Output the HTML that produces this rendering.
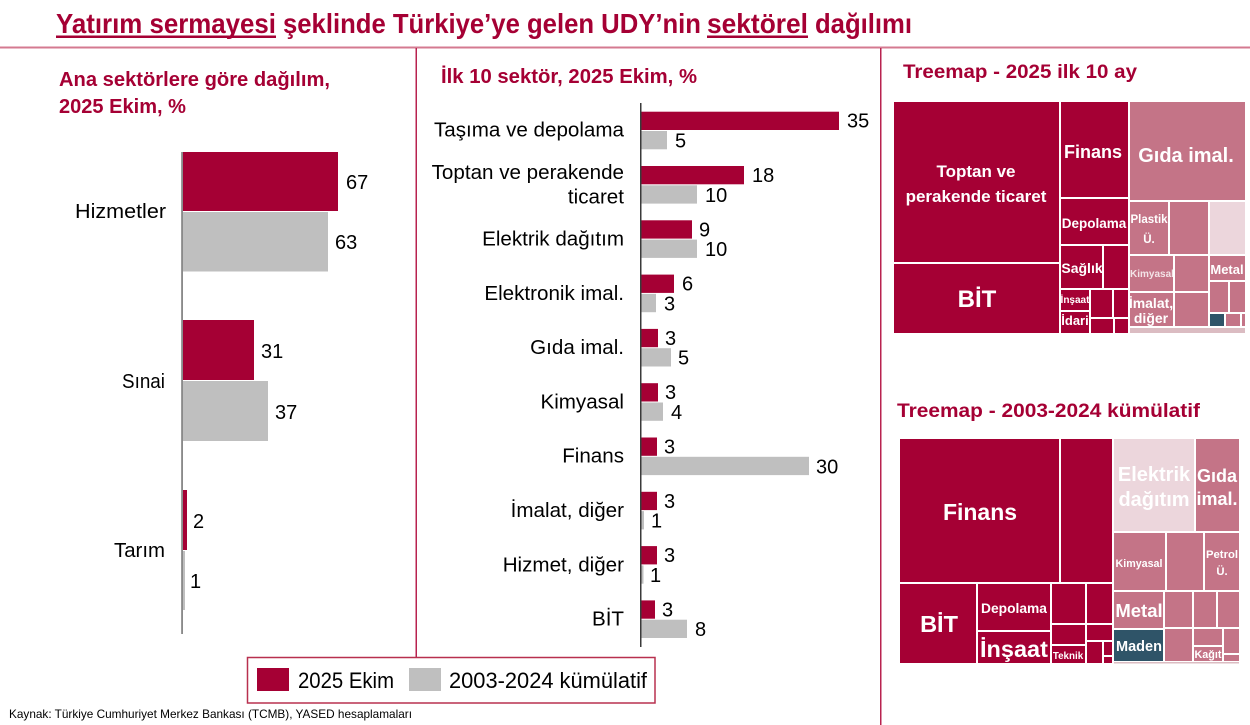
<!DOCTYPE html>
<html><head><meta charset="utf-8">
<style>
html,body{margin:0;padding:0;background:#fff;}
svg{display:block;}
text{font-family:"Liberation Sans",Arial,sans-serif;}
</style></head>
<body>
<svg width="1250" height="725" viewBox="0 0 1250 725" xmlns="http://www.w3.org/2000/svg">
<rect x="0" y="0" width="1250" height="725" fill="#fff"/>

<!-- Title -->
<g font-weight="bold" font-size="28" fill="#a50034">
<text x="56" y="33" textLength="220" lengthAdjust="spacingAndGlyphs">Yatırım sermayesi</text>
<text x="283" y="33" textLength="418" lengthAdjust="spacingAndGlyphs">şeklinde Türkiye’ye gelen UDY’nin</text>
<text x="707" y="33" textLength="101" lengthAdjust="spacingAndGlyphs">sektörel</text>
<text x="815" y="33" textLength="97" lengthAdjust="spacingAndGlyphs">dağılımı</text>
</g>
<rect x="56" y="35.5" width="220" height="2.5" fill="#a50034"/>
<rect x="707" y="35.5" width="101" height="2.5" fill="#a50034"/>

<!-- dividers -->
<rect x="0" y="46.5" width="1250" height="2" fill="#d47a90"/>
<rect x="415.5" y="48" width="1.5" height="609" fill="#b8224f"/>
<rect x="880" y="48" width="1.5" height="677" fill="#b8224f"/>

<!-- Subtitles -->
<g font-weight="bold" font-size="20" fill="#a50034">
<text x="59" y="86" textLength="271" lengthAdjust="spacingAndGlyphs">Ana sektörlere göre dağılım,</text>
<text x="59" y="113" textLength="127" lengthAdjust="spacingAndGlyphs">2025 Ekim, %</text>
<text x="441" y="83" textLength="256" lengthAdjust="spacingAndGlyphs">İlk 10 sektör, 2025 Ekim, %</text>
<text x="903" y="78" font-size="19" textLength="234" lengthAdjust="spacingAndGlyphs">Treemap - 2025 ilk 10 ay</text>
<text x="897" y="417" font-size="19" textLength="303" lengthAdjust="spacingAndGlyphs">Treemap - 2003-2024 kümülatif</text>
</g>

<!-- Left chart -->
<g>
<rect x="183" y="152" width="155" height="59" fill="#a50034"/>
<rect x="183" y="212" width="145" height="59.5" fill="#bfbfbf"/>
<rect x="183" y="320" width="71" height="60" fill="#a50034"/>
<rect x="183" y="381" width="85" height="60" fill="#bfbfbf"/>
<rect x="183" y="490" width="4" height="60" fill="#a50034"/>
<rect x="183" y="551" width="2" height="59" fill="#bfbfbf"/>
<rect x="181.3" y="152" width="1.5" height="482" fill="#6e6e6e"/>
</g>
<g font-size="20" fill="#000">
<text x="75" y="218" textLength="91" lengthAdjust="spacingAndGlyphs">Hizmetler</text>
<text x="122" y="388" textLength="43" lengthAdjust="spacingAndGlyphs">Sınai</text>
<text x="114" y="557" textLength="51" lengthAdjust="spacingAndGlyphs">Tarım</text>
<text x="346" y="189">67</text>
<text x="335" y="249">63</text>
<text x="261" y="358">31</text>
<text x="275" y="419">37</text>
<text x="193" y="528">2</text>
<text x="190" y="588">1</text>
</g>

<!-- Middle chart -->
<g>
<rect x="641" y="111.7" width="198" height="18.3" fill="#a50034"/>
<rect x="641" y="131" width="26" height="18.3" fill="#bfbfbf"/>
<rect x="641" y="166" width="103" height="18.3" fill="#a50034"/>
<rect x="641" y="185.3" width="56" height="18.3" fill="#bfbfbf"/>
<rect x="641" y="220.3" width="51" height="18.3" fill="#a50034"/>
<rect x="641" y="239.6" width="56" height="18.3" fill="#bfbfbf"/>
<rect x="641" y="274.6" width="33" height="18.3" fill="#a50034"/>
<rect x="641" y="293.9" width="15" height="18.3" fill="#bfbfbf"/>
<rect x="641" y="328.9" width="17" height="18.3" fill="#a50034"/>
<rect x="641" y="348.2" width="30" height="18.3" fill="#bfbfbf"/>
<rect x="641" y="383.2" width="17" height="18.3" fill="#a50034"/>
<rect x="641" y="402.5" width="22" height="18.3" fill="#bfbfbf"/>
<rect x="641" y="437.5" width="16" height="18.3" fill="#a50034"/>
<rect x="641" y="456.8" width="168" height="18.3" fill="#bfbfbf"/>
<rect x="641" y="491.8" width="16" height="18.3" fill="#a50034"/>
<rect x="641" y="511.1" width="3" height="18.3" fill="#bfbfbf"/>
<rect x="641" y="546.1" width="16" height="18.3" fill="#a50034"/>
<rect x="641" y="565.4" width="2.5" height="18.3" fill="#bfbfbf"/>
<rect x="641" y="600.4" width="14" height="18.3" fill="#a50034"/>
<rect x="641" y="619.7" width="46" height="18.3" fill="#bfbfbf"/>
<rect x="640" y="103" width="1.5" height="544" fill="#3a3a3a"/>
</g>
<g font-size="20.6" fill="#000" text-anchor="end">
<text x="624" y="136.5">Taşıma ve depolama</text>
<text x="624" y="179">Toptan ve perakende</text>
<text x="624" y="203.3">ticaret</text>
<text x="624" y="245.5">Elektrik dağıtım</text>
<text x="624" y="299.8">Elektronik imal.</text>
<text x="624" y="354.1">Gıda imal.</text>
<text x="624" y="408.4">Kimyasal</text>
<text x="624" y="462.7">Finans</text>
<text x="624" y="517">İmalat, diğer</text>
<text x="624" y="571.3">Hizmet, diğer</text>
<text x="624" y="625.6">BİT</text>
</g>
<g font-size="20" fill="#000">
<text x="847" y="127.7">35</text>
<text x="675" y="147.5">5</text>
<text x="752" y="182">18</text>
<text x="705" y="201.8">10</text>
<text x="699" y="236.3">9</text>
<text x="705" y="256.1">10</text>
<text x="682" y="290.6">6</text>
<text x="664" y="310.4">3</text>
<text x="665" y="344.9">3</text>
<text x="678" y="364.7">5</text>
<text x="665" y="399.2">3</text>
<text x="671" y="419">4</text>
<text x="664" y="453.5">3</text>
<text x="816" y="473.3">30</text>
<text x="664" y="507.8">3</text>
<text x="651" y="527.6">1</text>
<text x="664" y="562.1">3</text>
<text x="650" y="581.9">1</text>
<text x="662" y="616.4">3</text>
<text x="695" y="636.2">8</text>
</g>

<!-- Legend -->
<rect x="247.5" y="657.5" width="407.5" height="45.5" fill="#fff" stroke="#b8304f" stroke-width="1.5"/>
<rect x="257" y="668" width="32" height="23" fill="#a50034"/>
<rect x="409" y="668" width="32" height="23" fill="#bfbfbf"/>
<g font-size="22" fill="#000">
<text x="298" y="688" textLength="96" lengthAdjust="spacingAndGlyphs">2025 Ekim</text>
<text x="449" y="688" textLength="198" lengthAdjust="spacingAndGlyphs">2003-2024 kümülatif</text>
</g>

<!-- Footer -->
<text x="9" y="718" font-size="12" fill="#000" textLength="403" lengthAdjust="spacingAndGlyphs">Kaynak: Türkiye Cumhuriyet Merkez Bankası (TCMB), YASED hesaplamaları</text>

<!-- Treemap 1 -->
<g fill="#a50034">
<rect x="894" y="102" width="165" height="160"/>
<rect x="894" y="264" width="165" height="69"/>
<rect x="1061" y="102" width="67" height="95"/>
<rect x="1061" y="199" width="67" height="45"/>
<rect x="1061" y="246" width="41" height="42"/>
<rect x="1104" y="246" width="24" height="42"/>
<rect x="1061" y="290" width="28" height="20"/>
<rect x="1061" y="312" width="28" height="21"/>
<rect x="1091" y="290" width="21" height="27"/>
<rect x="1114" y="290" width="14" height="27"/>
<rect x="1091" y="319" width="22" height="14"/>
<rect x="1115" y="319" width="13" height="14"/>
</g>
<g fill="#c47487">
<rect x="1130" y="102" width="115" height="98"/>
<rect x="1130" y="202" width="38" height="52"/>
<rect x="1170" y="202" width="38" height="52"/>
<rect x="1130" y="256" width="43" height="35"/>
<rect x="1175" y="256" width="33" height="35"/>
<rect x="1210" y="256" width="35" height="24"/>
<rect x="1130" y="293" width="43" height="33"/>
<rect x="1175" y="293" width="33" height="33"/>
<rect x="1210" y="282" width="18" height="30"/>
<rect x="1230" y="282" width="15" height="30"/>
<rect x="1226" y="314" width="14" height="12"/>
<rect x="1242" y="314" width="3" height="12"/>
</g>
<rect x="1210" y="202" width="35" height="52" fill="#ecd6dc"/>
<rect x="1210" y="314" width="14" height="12" fill="#2f5468"/>
<rect x="1130" y="328" width="115" height="5" fill="#dbbcc2"/>

<g font-weight="bold" fill="#fff" text-anchor="middle">
<text x="976" y="177" font-size="17">Toptan ve</text>
<text x="976" y="202" font-size="17">perakende ticaret</text>
<text x="977" y="307" font-size="24">BİT</text>
<text x="1093" y="158" font-size="18">Finans</text>
<text x="1186" y="162" font-size="20">Gıda imal.</text>
<text x="1094" y="228" font-size="13.5">Depolama</text>
<text x="1149" y="223" font-size="11.5">Plastik</text>
<text x="1149" y="243" font-size="11.5">Ü.</text>
<text x="1082" y="273" font-size="14">Sağlık</text>
<text x="1152" y="277" font-size="10" fill-opacity="0.8">Kimyasal</text>
<text x="1227" y="274" font-size="13">Metal</text>
<text x="1075" y="303" font-size="10">İnşaat</text>
<text x="1075" y="325" font-size="13">İdari</text>
<text x="1151" y="308" font-size="14">İmalat,</text>
<text x="1151" y="323" font-size="14">diğer</text>
</g>

<!-- Treemap 2 -->
<g fill="#a50034">
<rect x="900" y="439" width="159" height="143"/>
<rect x="1061" y="439" width="51" height="143"/>
<rect x="900" y="584" width="76" height="79"/>
<rect x="978" y="584" width="72" height="46"/>
<rect x="978" y="632" width="72" height="31"/>
<rect x="1052" y="584" width="33" height="39"/>
<rect x="1087" y="584" width="25" height="39"/>
<rect x="1052" y="625" width="33" height="19"/>
<rect x="1087" y="625" width="25" height="15"/>
<rect x="1052" y="646" width="33" height="17"/>
<rect x="1087" y="642" width="15" height="21"/>
<rect x="1104" y="642" width="8" height="13"/>
<rect x="1104" y="657" width="8" height="6"/>
</g>
<rect x="1114" y="439" width="80" height="92" fill="#ecd6dc"/>
<g fill="#c47487">
<rect x="1196" y="439" width="43" height="92"/>
<rect x="1114" y="533" width="51" height="57"/>
<rect x="1167" y="533" width="36" height="57"/>
<rect x="1205" y="533" width="34" height="57"/>
<rect x="1114" y="592" width="49" height="36"/>
<rect x="1165" y="592" width="27" height="35"/>
<rect x="1194" y="592" width="22" height="35"/>
<rect x="1218" y="592" width="21" height="35"/>
<rect x="1165" y="629" width="27" height="32"/>
<rect x="1194" y="629" width="28" height="16"/>
<rect x="1224" y="629" width="15" height="24"/>
<rect x="1194" y="647" width="28" height="14"/>
<rect x="1224" y="655" width="15" height="6"/>
</g>
<rect x="1114" y="630" width="49" height="31" fill="#2f5468"/>
<rect x="1114" y="662" width="125" height="1.5" fill="#dbbcc2"/>

<g font-weight="bold" fill="#fff" text-anchor="middle">
<text x="980" y="520" font-size="23">Finans</text>
<text x="939" y="632" font-size="23.5">BİT</text>
<text x="1014" y="613" font-size="13.8">Depolama</text>
<text x="1014" y="657" font-size="23.5">İnşaat</text>
<text x="1068" y="659" font-size="9.8">Teknik</text>
<text x="1154" y="481" font-size="20">Elektrik</text>
<text x="1154" y="506" font-size="20">dağıtım</text>
<text x="1217" y="482" font-size="18">Gıda</text>
<text x="1217" y="505" font-size="18">imal.</text>
<text x="1139" y="567" font-size="10.7">Kimyasal</text>
<text x="1222" y="558" font-size="11.3">Petrol</text>
<text x="1222" y="575" font-size="11.3">Ü.</text>
<text x="1139" y="617" font-size="18.5">Metal</text>
<text x="1139" y="651" font-size="14.5">Maden</text>
<text x="1208" y="658" font-size="10.8">Kağıt</text>
</g>
</svg>
</body></html>
